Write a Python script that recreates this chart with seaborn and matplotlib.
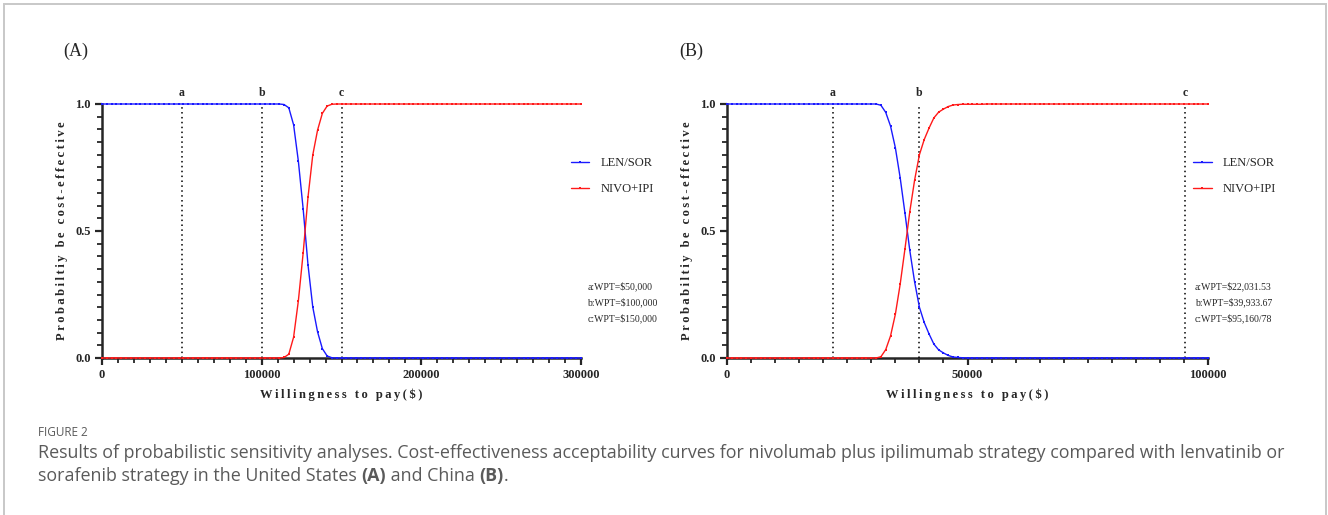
import numpy as np
import matplotlib
matplotlib.use("Agg")
import matplotlib.pyplot as plt
from matplotlib.patches import Rectangle
from matplotlib.ticker import MultipleLocator, FormatStrFormatter
import seaborn as sns

# (A) United States, willingness-to-pay grid in steps of $3,000
wtp_us = np.arange(0, 300001, 3000)
len_sor_us = [1.0] * 38 + [0.998, 0.985, 0.918, 0.774, 0.586, 0.368, 0.201,
                           0.103, 0.037, 0.008, 0.001] + [0.0] * 52
nivo_ipi_us = [0.0] * 38 + [0.002, 0.015, 0.082, 0.226, 0.414, 0.632, 0.799,
                            0.897, 0.963, 0.992, 0.999] + [1.0] * 52
thresholds_us = [50000, 100000, 150000]
wpt_text_us = ["a:WPT=$50,000", "b:WPT=$100,000", "c:WPT=$150,000"]

# (B) China, grid in steps of $1,000
wtp_cn = np.arange(0, 100001, 1000)
len_sor_cn = [1.0] * 32 + [0.995, 0.967, 0.913, 0.828, 0.71, 0.57, 0.424, 0.30,
                           0.20, 0.14, 0.095, 0.055, 0.032, 0.02, 0.01, 0.004,
                           0.002, 0.001] + [0.0] * 51
nivo_ipi_cn = [0.0] * 32 + [0.005, 0.033, 0.087, 0.172, 0.29, 0.43, 0.576, 0.70,
                            0.80, 0.86, 0.905, 0.945, 0.968, 0.98, 0.99, 0.996,
                            0.998, 0.999] + [0.999] * 4 + [1.0] * 47
thresholds_cn = [22031.53, 39933.67, 95160.78]
wpt_text_cn = ["a:WPT=$22,031.53", "b:WPT=$39,933.67", "c:WPT=$95,160/78"]

threshold_names = ["a", "b", "c"]
series_names = ["LEN/SOR", "NIVO+IPI"]
series_colors = ["#1a1aff", "#ff1a1a"]

sns.set_style("ticks")
plt.rcParams['font.family'] = ['Liberation Serif', 'DejaVu Serif']
plt.rcParams['text.parse_math'] = False

W, H = 1328, 515
fig = plt.figure(figsize=(W / 100, H / 100), dpi=100)


def spaced(s):
    return "\u2009".join(s)


def panel(rect, wtp, y_len, y_nivo, thresholds, wpt_text, xmax, major, minor,
          tag, tag_x, leg_x, note_x):
    ax = fig.add_axes(rect)
    for vals, name, col in zip([y_len, y_nivo], series_names, series_colors):
        sns.lineplot(x=wtp, y=vals, ax=ax, color=col, linewidth=1.0,
                     marker='s', markersize=2.0, markeredgewidth=0,
                     label=name, clip_on=False, zorder=4)
    for t, nm in zip(thresholds, threshold_names):
        ax.plot([t, t], [0, 1.0], ls=(0, (1, 2.2)), color='black', lw=1.1,
                zorder=3, clip_on=False)
        ax.text(t, 1.045, nm, ha='center', va='center', fontsize=8.5,
                fontweight='bold', transform=ax.get_xaxis_transform())
    ax.set_xlim(0, xmax)
    ax.set_ylim(0, 1)
    ax.xaxis.set_major_locator(MultipleLocator(major))
    ax.xaxis.set_minor_locator(MultipleLocator(minor))
    ax.xaxis.set_major_formatter(FormatStrFormatter('%d'))
    ax.yaxis.set_major_locator(MultipleLocator(0.5))
    ax.yaxis.set_minor_locator(MultipleLocator(0.05))
    ax.yaxis.set_major_formatter(FormatStrFormatter('%.1f'))
    ax.tick_params(which='major', direction='out', length=5, width=1.6,
                   labelsize=9, pad=3)
    ax.tick_params(which='minor', direction='out', length=3.5, width=1.3)
    for lab in ax.get_xticklabels() + ax.get_yticklabels():
        lab.set_fontweight('bold')
    sns.despine(ax=ax)
    for side in ['left', 'bottom']:
        ax.spines[side].set_linewidth(1.8)
    ax.set_xlabel(spaced("Willingness to pay($)"), fontsize=9,
                  fontweight='bold', labelpad=5)
    ax.set_ylabel(spaced("Probabiltiy be cost-effective"), fontsize=9,
                  fontweight='bold', labelpad=5)
    ax.legend(loc='upper left', bbox_to_anchor=(leg_x, 0.81), frameon=False,
              handlelength=1.5, handletextpad=0.9, labelspacing=1.1,
              fontsize=9, borderaxespad=0)
    for txt, yy in zip(wpt_text, [0.28, 0.22, 0.157]):
        ax.text(note_x, yy, txt, fontsize=7, ha='left', va='center',
                transform=ax.transAxes)
    fig.text(tag_x, 1 - 51 / H, tag, fontsize=13, ha='left', va='center')
    return ax


panel([102 / W, 1 - 358 / H, 479 / W, 254 / H], wtp_us, len_sor_us,
      nivo_ipi_us, thresholds_us, wpt_text_us, 300000, 100000, 10000,
      "(A)", 63 / W, 0.968, 1.013)
panel([727 / W, 1 - 358 / H, 481 / W, 254 / H], wtp_cn, len_sor_cn,
      nivo_ipi_cn, thresholds_cn, wpt_text_cn, 100000, 50000, 5000,
      "(B)", 679 / W, 0.958, 0.973)

# figure border
fig.patches.append(Rectangle((4 / W, -0.1), 1322 / W, 1 - 4 / H + 0.1,
                             transform=fig.transFigure, fill=False,
                             ec='#c8c8c8', lw=1.4))

cap_font = ['Open Sans', 'DejaVu Sans']
cap_col = '#5a5a5a'
cap_size = 12.9
fig.text(38 / W, 1 - 432 / H, "FIGURE 2", fontsize=8.5, color=cap_col,
         family=cap_font, va='center')
fig.text(38 / W, 1 - 453 / H,
         "Results of probabilistic sensitivity analyses. Cost-effectiveness "
         "acceptability curves for nivolumab plus ipilimumab strategy compared "
         "with lenvatinib or", fontsize=cap_size, color=cap_col,
         family=cap_font, va='center')

fig.canvas.draw()
renderer = fig.canvas.get_renderer()
parts = [("sorafenib strategy in the United States ", 'normal'), ("(A)", 'bold'),
         (" and China ", 'normal'), ("(B)", 'bold'), (".", 'normal')]
x = 38
for piece, wt in parts:
    t = fig.text(x / W, 1 - 476 / H, piece, fontsize=cap_size, color=cap_col,
                 family=cap_font, fontweight=wt, va='center')
    x = t.get_window_extent(renderer=renderer).x1

fig.savefig("out.png", dpi=100)
